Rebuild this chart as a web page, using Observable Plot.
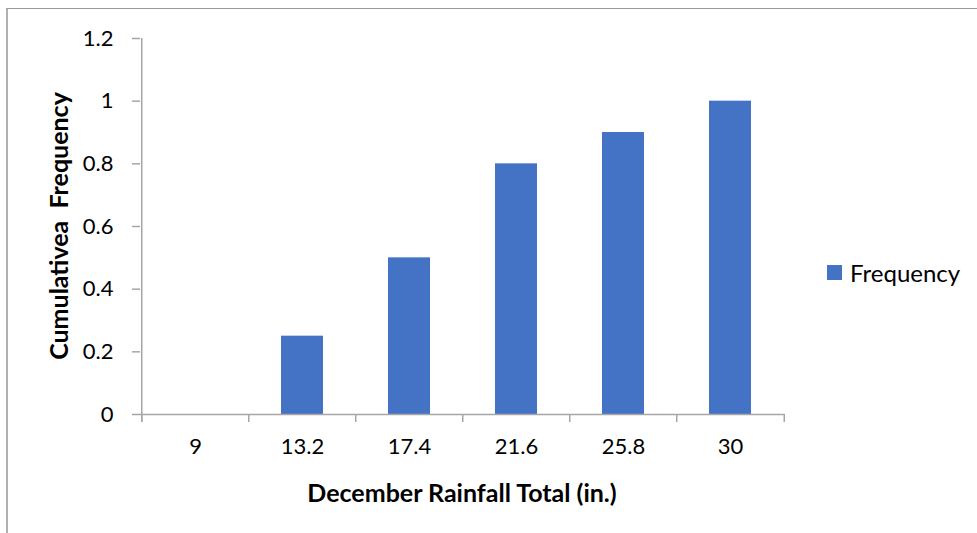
<!DOCTYPE html>
<html><head><meta charset="utf-8">
<script src="https://cdn.jsdelivr.net/npm/d3@7"></script>
<script src="https://cdn.jsdelivr.net/npm/@observablehq/plot@0.6"></script>
<style>
body{margin:0;background:#fff;}
#wrap{position:relative;width:977px;height:533px;overflow:hidden;font-family:Lato,"Open Sans",sans-serif;color:#000;}
#border{position:absolute;left:6px;top:7.5px;width:1000px;height:600px;border-top:1.5px solid #999;border-left:2px solid #b0b0b0;box-sizing:border-box;}
#chart{position:absolute;left:0;top:0;}
.title{position:absolute;font-weight:bold;font-size:25px;white-space:pre;}
#xtitle{left:462px;top:492px;transform:translate(-50%,-50%);}
#ytitle{left:58px;top:226px;transform:translate(-50%,-50%) rotate(-90deg);}
#legend{position:absolute;left:827px;top:258px;display:flex;align-items:center;font-size:24px;}
#legend .sw{width:15px;height:15px;background:#4472C4;margin-right:8px;}
</style></head>
<body>
<div id="wrap">
  <div id="border"></div>
  <div id="chart"></div>
  <div class="title" id="xtitle"></div>
  <div class="title" id="ytitle"></div>
  <div id="legend"><div class="sw"></div><span id="legtext"></span></div>
</div>
<script>
const categories = ["9", "13.2", "17.4", "21.6", "25.8", "30"];
const frequency = [0, 0.25, 0.5, 0.8, 0.9, 1];
const yTicks = [0, 0.2, 0.4, 0.6, 0.8, 1, 1.2];
const seriesName = "Frequency";
const xTitle = "December Rainfall Total (in.)";
const yTitle = "Cumulativea  Frequency";

const data = categories.map((c, i) => ({cat: c, value: frequency[i]}));
const W = 977, H = 533, ml = 140, mr = 192, mt = 38, mb = 119;
const bw = (W - ml - mr) / categories.length;
const axisColor = "#a6a6a6";
const gap = 0.61;

const chart = Plot.plot({
  width: W, height: H,
  marginLeft: ml, marginRight: mr, marginTop: mt, marginBottom: mb,
  style: {fontFamily: "Lato, 'Open Sans', sans-serif", fontSize: "22px", color: "#000", background: "transparent"},
  x: {domain: categories, paddingInner: gap, paddingOuter: gap / 2, label: null},
  y: {domain: [0, 1.2], label: null},
  marks: [
    Plot.barY(data, {x: "cat", y: "value", fill: "#4472C4"}),
    Plot.ruleY([0], {stroke: axisColor, strokeWidth: 1.5}),
    Plot.ruleX([categories[0]], {x: d => d, dx: -bw / 2, y1: 1.2, y2: 0, insetBottom: -8, stroke: axisColor, strokeWidth: 1.5}),
    Plot.ruleX(categories, {x: d => d, dx: -bw / 2, y1: 0, y2: 0, insetBottom: -8, stroke: axisColor, strokeWidth: 1.5}),
    Plot.ruleX([categories[categories.length - 1]], {x: d => d, dx: bw / 2, y1: 0, y2: 0, insetBottom: -8, stroke: axisColor, strokeWidth: 1.5}),
    Plot.axisY(yTicks, {tickSize: 8, tickPadding: 19, stroke: axisColor, fill: "#000", strokeWidth: 1.5, fontSize: 22, tickFormat: d => String(d), label: null}),
    Plot.axisX({tickSize: 0, tickPadding: 24, fill: "#000", fontSize: 22, label: null})
  ]
});
document.getElementById("chart").appendChild(chart);
document.getElementById("xtitle").textContent = xTitle;
document.getElementById("ytitle").textContent = yTitle;
document.getElementById("legtext").textContent = seriesName;
</script>
</body></html>
